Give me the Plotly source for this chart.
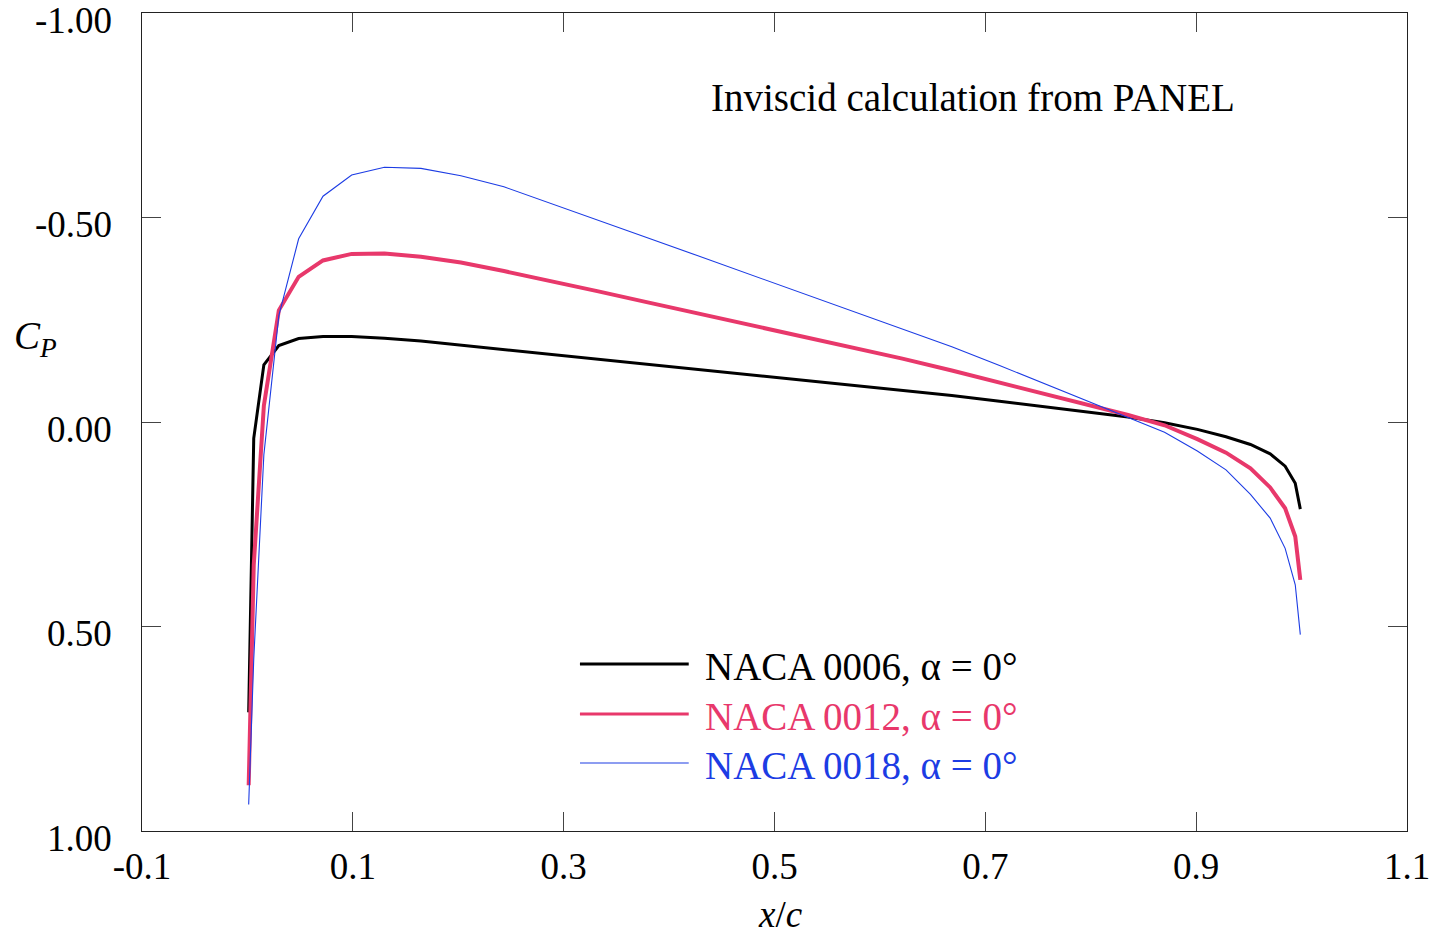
import plotly.graph_objects as go

# x/c locations of the panel control points
x_c = [0.0012, 0.0060, 0.0156, 0.0298, 0.0486, 0.0717, 0.0989, 0.1300,
       0.1646, 0.2025, 0.2433, 0.2865, 0.3318, 0.3787, 0.4267, 0.4755,
       0.5245, 0.5733, 0.6213, 0.6682, 0.7135, 0.7567, 0.7975, 0.8354,
       0.8700, 0.9011, 0.9283, 0.9515, 0.9702, 0.9844, 0.9940, 0.9988]

cp_0006 = [0.71, 0.04, -0.14, -0.187, -0.204, -0.209, -0.209, -0.205,
           -0.198, -0.188, -0.177, -0.166, -0.154, -0.141, -0.129, -0.116,
           -0.103, -0.090, -0.077, -0.065, -0.051, -0.037, -0.024, -0.012,
           0.002, 0.018, 0.036, 0.055, 0.078, 0.108, 0.150, 0.213]

cp_0012 = [0.888, 0.35, -0.04, -0.273, -0.355, -0.395, -0.411, -0.412,
           -0.404, -0.390, -0.369, -0.346, -0.320, -0.293, -0.266, -0.238,
           -0.210, -0.182, -0.155, -0.126, -0.097, -0.069, -0.043, -0.017,
           0.008, 0.042, 0.075, 0.113, 0.160, 0.211, 0.280, 0.386]

cp_0018 = [0.935, 0.58, 0.08, -0.26, -0.448, -0.552, -0.604, -0.623,
           -0.620, -0.602, -0.575, -0.536, -0.494, -0.451, -0.407, -0.362,
           -0.317, -0.272, -0.228, -0.184, -0.138, -0.093, -0.051, -0.011,
           0.025, 0.071, 0.117, 0.177, 0.235, 0.309, 0.398, 0.520]

series_names = ["NACA 0006, \u03b1 = 0\u00b0", "NACA 0012, \u03b1 = 0\u00b0", "NACA 0018, \u03b1 = 0\u00b0"]
series_data = [cp_0006, cp_0012, cp_0018]
colors = ["#000000", "#E8386B", "#1C3CE4"]
widths = [3, 4, 1.1]
legend_widths = [3, 3, 1.2]

x_ticks = [-0.1, 0.1, 0.3, 0.5, 0.7, 0.9, 1.1]
x_ticktext = ["-0.1", "0.1", "0.3", "0.5", "0.7", "0.9", "1.1"]
y_ticks = [-1.0, -0.5, 0.0, 0.5, 1.0]
y_ticktext = ["-1.00", "-0.50", "0.00", "0.50", "1.00"]

FONT = "Liberation Serif, Times New Roman, serif"
FS_TICK = 37
FS_TEXT = 39

fig = go.Figure()
for name, ys, c, w in zip(series_names, series_data, colors, widths):
    fig.add_trace(go.Scatter(x=x_c, y=ys, mode="lines", name=name,
                             line=dict(color=c, width=w), showlegend=False))

# manual legend (line samples + coloured text)
leg_y_line = [0.2042, 0.1430, 0.0831]
leg_y_text = [0.2005, 0.1405, 0.0805]
shapes = []
annotations = []
for i in range(3):
    shapes.append(dict(type="line", xref="paper", yref="paper",
                       x0=0.3462, x1=0.4322, y0=leg_y_line[i], y1=leg_y_line[i],
                       line=dict(color=colors[i], width=legend_widths[i])))
    annotations.append(dict(xref="paper", yref="paper", x=0.4432, y=leg_y_text[i],
                            xanchor="left", yanchor="middle", showarrow=False,
                            text=series_names[i],
                            font=dict(family=FONT, size=FS_TEXT, color=colors[i])))

# y tick labels (slightly below their ticks, as in the reference)
for v, t in zip(y_ticks, y_ticktext):
    annotations.append(dict(xref="paper", yref="y", x=0, y=v, xanchor="right",
                            yanchor="middle", xshift=-28, yshift=-7, showarrow=False,
                            text=t, font=dict(family=FONT, size=FS_TICK, color="#000")))

annotations.append(dict(xref="paper", yref="paper", x=0.448, y=0.8973,
                        xanchor="left", yanchor="middle", showarrow=False,
                        text="Inviscid calculation from PANEL",
                        font=dict(family=FONT, size=FS_TEXT, color="#000")))
annotations.append(dict(xref="paper", yref="paper", x=-0.103, y=0.602,
                        xanchor="left", yanchor="middle", showarrow=False,
                        text="<i>C</i><sub><i>P</i></sub>",
                        font=dict(family=FONT, size=FS_TEXT, color="#000")))
annotations.append(dict(xref="paper", yref="paper", x=0.5047, y=-0.0745,
                        xanchor="center", yanchor="top", showarrow=False,
                        text="<i>x</i>/<i>c</i>",
                        font=dict(family=FONT, size=FS_TICK, color="#000")))

fig.update_layout(
    width=1442, height=935,
    margin=dict(l=142, r=32, t=13, b=104),
    paper_bgcolor="white", plot_bgcolor="white",
    font=dict(family=FONT, size=FS_TICK, color="#000"),
    shapes=shapes, annotations=annotations,
    showlegend=False,
)
fig.update_xaxes(range=[-0.1, 1.1], tickvals=x_ticks, ticktext=x_ticktext,
                 ticks="inside", ticklen=19, tickcolor="#444", tickwidth=1,
                 showline=True, linecolor="#222", linewidth=1, mirror="ticks",
                 showgrid=False, zeroline=False, ticklabelstandoff=3,
                 tickfont=dict(family=FONT, size=FS_TICK, color="#000"))
fig.update_yaxes(range=[1.0, -1.0], tickvals=y_ticks, showticklabels=False,
                 ticks="inside", ticklen=19, tickcolor="#444", tickwidth=1,
                 showline=True, linecolor="#222", linewidth=1, mirror="ticks",
                 showgrid=False, zeroline=False)

fig.write_html("out.html")
